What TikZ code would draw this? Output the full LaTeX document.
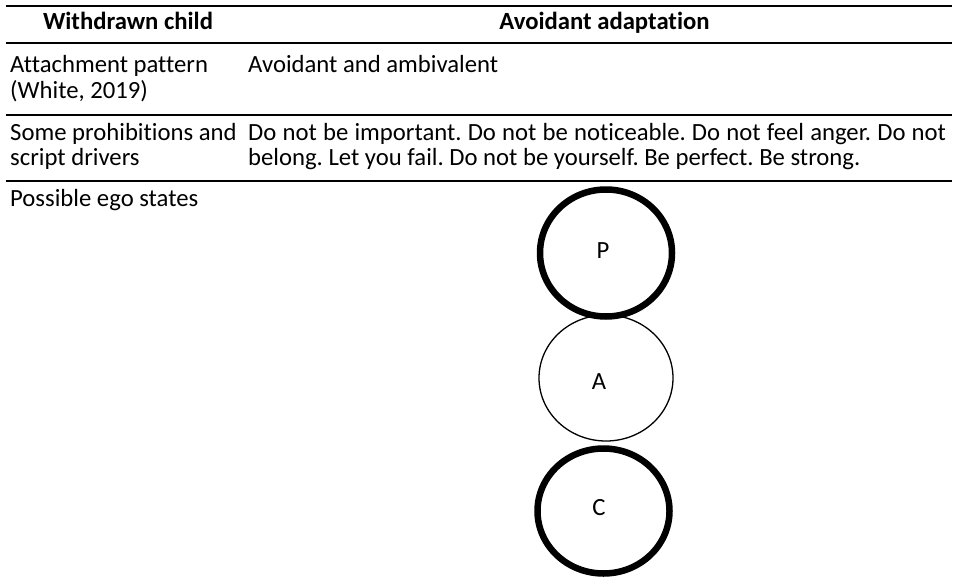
\documentclass[tikz,border=0pt]{standalone}
\usepackage{fontspec}
\setmainfont{Carlito}[Ligatures=NoCommon]
\usetikzlibrary{shapes.geometric}
\tikzset{
  txt/.style={inner sep=0pt, anchor=base west, font=\fontsize{24.7}{26}\selectfont},
  hdr/.style={inner sep=0pt, anchor=base, font=\fontsize{24.7}{26}\selectfont\bfseries},
  rule/.style={line width=2pt},
  ego/.style={ellipse, draw, inner sep=0pt},
  egolbl/.style={inner sep=0pt, anchor=base, font=\fontsize{24.7}{26}\selectfont},
}
\frenchspacing
\begin{document}
\begin{tikzpicture}[x=1pt,y=-1pt]
\useasboundingbox (0,0) rectangle (958,578);
% rules
\coordinate (l0) at (6,6);    \coordinate (r0) at (952,6);
\coordinate (l1) at (6,43.5); \coordinate (r1) at (952,43.5);
\coordinate (l2) at (6,115);  \coordinate (r2) at (952,115);
\coordinate (l3) at (6,181);  \coordinate (r3) at (952,181);
\draw[rule] (l0) -- (r0);
\draw[rule] (l1) -- (r1);
\draw[rule] (l2) -- (r2);
\draw[rule] (l3) -- (r3);
% header
\node[hdr] (h1) at (128,30) {Withdrawn child};
\node[hdr] (h2) at (604.5,30) {Avoidant adaptation};
% row 1
\node[txt] (r1a) at (10,73) {Attachment pattern};
\node[txt] (r1b) at (10,99) {(White, 2019)};
\node[txt] (r1c) at (248,73) {Avoidant and ambivalent};
% row 2
\node[txt] (r2a) at (10,140) {Some prohibitions and};
\node[txt] (r2b) at (10,165) {script drivers};
\node[txt] (r2c) at (248,140) {\makebox[698pt][s]{Do not be important. Do not be noticeable. Do not feel anger. Do not}};
\node[txt] (r2d) at (248,165) {belong. Let you fail. Do not be yourself. Be perfect. Be strong.};
% row 3
\node[txt] (r3a) at (10,206) {Possible ego states};
% ego state circles
\node[ego, line width=6.5pt, minimum width=132pt, minimum height=127pt] (P) at (606,253) {};
\node[ego, line width=1.3pt, minimum width=134pt, minimum height=126pt] (A) at (606,378) {};
\node[ego, line width=6.5pt, minimum width=132pt, minimum height=125pt] (C) at (603.5,511) {};
\node[egolbl] (Pl) at (603,258) {P};
\node[egolbl] (Al) at (599,389) {A};
\node[egolbl] (Cl) at (599,515) {C};
\end{tikzpicture}
\end{document}
